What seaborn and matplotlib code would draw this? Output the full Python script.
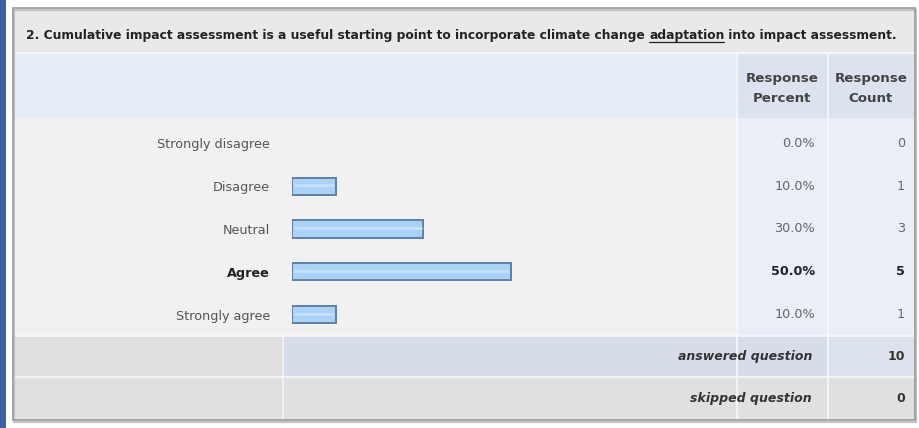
import matplotlib
matplotlib.use("Agg")
import matplotlib.pyplot as plt
import matplotlib.transforms as mtransforms
from matplotlib.patches import Rectangle
from matplotlib.lines import Line2D
import pandas as pd
import seaborn as sns

sns.set_theme(style="white")
plt.rcParams["font.family"] = ["DejaVu Sans"]

# Survey question and its results
question_head = "2. Cumulative impact assessment is a useful starting point to incorporate climate change "
question_term = "adaptation"
question_tail = " into impact assessment."
answer_choices = ["Strongly disagree", "Disagree", "Neutral", "Agree", "Strongly agree"]
response_count = [0, 1, 3, 5, 1]
response_percent = [0.0, 10.0, 30.0, 50.0, 10.0]
answered_question = 10
skipped_question = 0
top_choice = "Agree"

df = pd.DataFrame({"choice": answer_choices, "percent": response_percent,
                   "count": response_count})

W, H = 920, 428
fig = plt.figure(figsize=(W / 100, H / 100), dpi=100)
fig.patch.set_facecolor("white")

# Background "table" canvas in pixel units
bg = fig.add_axes([0, 0, 1, 1])
bg.set_xlim(0, W)
bg.set_ylim(H, 0)
bg.axis("off")

# column / row edges of the results table
L, C_LABEL, C_PCT, C_CNT, R = 13, 283, 737, 828, 915
T, R_TITLE, R_HEAD, R_DATA, R_ANS, B = 8, 53, 118, 336, 377, 420


def box(x0, y0, x1, y1, color, z=0):
    bg.add_patch(Rectangle((x0, y0), x1 - x0, y1 - y0, facecolor=color,
                           edgecolor="none", zorder=z))


# slide background strip on the left
box(0, 0, 6.5, H, "#3e5fa4")

box(L, T, R, R_TITLE, "#e9e9e9")
box(L, R_TITLE, R, R_HEAD, "#e6edf6")
box(C_PCT, R_TITLE, R, R_HEAD, "#dbe3ee")
box(L, R_HEAD, C_PCT, R_DATA, "#f1f1f1")
box(C_PCT, R_HEAD, R, R_DATA, "#e9eef7")
box(L, R_DATA, C_LABEL, R_ANS, "#dfdfdf")
box(C_LABEL, R_DATA, C_CNT, R_ANS, "#d6dde9")
box(C_CNT, R_DATA, R, R_ANS, "#dce2eb")
box(L, R_ANS, R, B, "#e0e0e0")

# white separators
for x in (C_PCT, C_CNT):
    bg.add_line(Line2D([x, x], [R_TITLE, B], color="#f7f9fc", lw=1.2, zorder=1))
bg.add_line(Line2D([C_LABEL, C_LABEL], [R_DATA, B], color="#f4f4f4", lw=1.2, zorder=1))
for y in (R_TITLE, R_DATA, R_ANS):
    bg.add_line(Line2D([L, R], [y, y], color="#f8f8f8", lw=1.2, zorder=1))

# outer frame with a soft shadow
bg.add_patch(Rectangle((L + 1.5, T + 1.5), R - L, B - T, facecolor="none",
                       edgecolor="#c4c4c4", lw=1.6, zorder=2))
bg.add_patch(Rectangle((L, T), R - L, B - T, facecolor="none",
                       edgecolor="#9b9b9b", lw=1.2, zorder=3))

# Bars drawn by seaborn on their own axes: 0-100 % across the bar column
row_h = (R_DATA - R_HEAD - 4) / len(answer_choices)
bar_top = R_DATA - row_h * len(answer_choices)
ax = fig.add_axes([292 / W, 1 - R_DATA / H, 438 / W, (R_DATA - bar_top) / H])
ax.patch.set_alpha(0)
sns.barplot(data=df, x="percent", y="choice", orient="h", ax=ax,
            color="#a9d2f6", edgecolor="#5f7fa3", linewidth=1.4, width=0.4,
            saturation=1)
ax.set_xlim(0, 100)
ax.set_ylim(len(answer_choices) - 0.5, -0.5)
ax.set_xlabel("")
ax.set_ylabel("")
ax.set_xticks([])
for s in ax.spines.values():
    s.set_visible(False)
ax.tick_params(axis="y", length=0, pad=16, labelsize=9.2, labelcolor="#555555")
for lab in ax.get_yticklabels():
    if lab.get_text() == top_choice:
        lab.set_fontweight("bold")
        lab.set_color("#222222")

# a zero share gets no bar; others get a light highlight along the middle
for p in ax.patches:
    if p.get_width() <= 0:
        p.set_visible(False)
        continue
    ax.add_line(Line2D([p.get_x() + 0.6, p.get_x() + p.get_width() - 0.6],
                       [p.get_y() + p.get_height() * 0.45] * 2,
                       color="#c2e1fb", lw=2.0, zorder=p.get_zorder() + 1))

# percent and count columns, aligned to the bar rows
row_tr = mtransforms.blended_transform_factory(bg.transData, ax.transData)
for i, (c, pct, n) in enumerate(zip(answer_choices, response_percent, response_count)):
    bold = c == top_choice
    kw = dict(transform=row_tr, ha="right", va="center", fontsize=9.2,
              fontweight="bold" if bold else "normal",
              color="#222222" if bold else "#666666")
    bg.text(815, i, f"{pct:.1f}%", **kw)
    bg.text(905, i, f"{n}", **kw)

# header
for xc, word in ((782, "Percent"), (871, "Count")):
    bg.text(xc, 88.5, f"Response\n{word}", ha="center", va="center",
            fontsize=9.6, fontweight="bold", color="#444444", linespacing=1.75)

# summary rows
for yc, lab, val in (((R_DATA + R_ANS) / 2, "answered question", answered_question),
                     ((R_ANS + B) / 2, "skipped question", skipped_question)):
    bg.text(812, yc, lab, ha="right", va="center", fontsize=9.0,
            fontweight="bold", fontstyle="italic", color="#333333")
    bg.text(905, yc, f"{val}", ha="right", va="center", fontsize=9.0,
            fontweight="bold", color="#333333")

# question title with the underlined term
fig.canvas.draw()
renderer = fig.canvas.get_renderer()
tkw = dict(fontsize=8.8, fontweight="bold", color="#222222", va="baseline",
           ha="left", transform=None)
y_base = H - 39
t1 = fig.text(26, y_base, question_head, **tkw)
x = t1.get_window_extent(renderer).x1
t2 = fig.text(x, y_base, question_term, **tkw)
e2 = t2.get_window_extent(renderer)
fig.add_artist(Line2D([e2.x0, e2.x1], [y_base - 2.5, y_base - 2.5],
                      transform=None, color="#222222", lw=0.9))
t3 = fig.text(e2.x1, y_base, question_tail, **tkw)

fig.savefig("out.png", dpi=100, facecolor="white")
